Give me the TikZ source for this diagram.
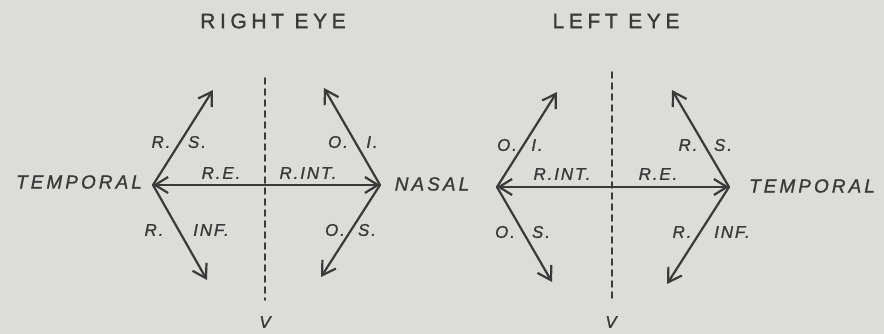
\documentclass[tikz,border=0pt]{standalone}
\usepackage{fontspec}
\usetikzlibrary{arrows.meta}
\newfontfamily\titlefont[LetterSpace=22,FakeBold=1.3]{Liberation Sans}
\newfontfamily\sidefont[LetterSpace=16,FakeBold=1.2]{Liberation Sans}
\newfontfamily\labfont[LetterSpace=11,FakeBold=1.2]{Liberation Sans}
\definecolor{Paper}{HTML}{DCDCD9}
\definecolor{Ink}{HTML}{3A3A3A}
\tikzset{barb/.tip={Straight Barb[length=13pt,width=16pt]}}

\begin{document}
\begin{tikzpicture}[x=1pt,y=-1pt,line cap=round,line join=round,
  muscle/.style={Ink,line width=2.2pt,-barb},
  midline/.style={Ink,line width=1.6pt,dash pattern=on 6pt off 5pt},
  lab/.style={Ink,inner sep=0pt,font=\labfont\itshape\fontsize{17}{17}\selectfont},
  side/.style={Ink,inner sep=0pt,font=\sidefont\itshape\fontsize{19}{19}\selectfont},
  eyetitle/.style={Ink,inner sep=0pt,font=\titlefont\fontsize{21}{21}\selectfont}]

% ---- paper ----
\fill[Paper] (0,0) rectangle (884,334);

% ---- right eye ----
\node[eyetitle] (rtitle) at (273,21) {RIGHT EYE};
\coordinate (rtemp) at (153,185);
\coordinate (rnas) at (380,185);
\coordinate (rvtop) at (265,78);
\coordinate (rvbot) at (265,300);
\node[lab] (rv) at (265,322) {V};
\draw[midline] (rvtop) -- (rvbot);
\draw[muscle] (rtemp) -- (213,90) coordinate (rsup);
\draw[muscle] (rtemp) -- (207,280) coordinate (rinf);
\draw[muscle] (rnas) -- (324,88) coordinate (roinf);
\draw[muscle] (rnas) -- (321,277) coordinate (rosup);
\draw[muscle,barb-barb] (rtemp) -- (rnas);
\node[side] (rtemplab) at (79,182) {TEMPORAL};
\node[side] (rnaslab) at (432,184) {NASAL};

% ---- left eye ----
\node[eyetitle] (ltitle) at (616,21) {LEFT EYE};
\coordinate (lnas) at (497,187);
\coordinate (ltemp) at (729,187);
\coordinate (lvtop) at (612,72);
\coordinate (lvbot) at (612,302);
\node[lab] (lv) at (611,322) {V};
\draw[midline] (lvtop) -- (lvbot);
\draw[muscle] (lnas) -- (557,92) coordinate (loinf);
\draw[muscle] (lnas) -- (552,282) coordinate (losup);
\draw[muscle] (ltemp) -- (672,90) coordinate (lsup);
\draw[muscle] (ltemp) -- (667,284) coordinate (linf);
\draw[muscle,barb-barb] (lnas) -- (ltemp);
\node[side] (ltemplab) at (812,186) {TEMPORAL};

% ---- muscle labels ----
\foreach \n/\x/\y/\t in {a/161/142/{R.}, b/197/142/{S.}, c/338/142/{O.}, d/372/142/{I.},
                         e/221/173/{R.E.}, f/308/173/{R.INT.},
                         g/154/230/{R.}, h/211/230/{INF.}, i/335/230/{O.}, j/367/230/{S.},
                         k/507/145/{O.}, l/537/145/{I.}, m/688/145/{R.}, n/723/145/{S.},
                         o/562/174/{R.INT.}, p/658/174/{R.E.},
                         q/505/232/{O.}, r/541/232/{S.}, s/682/232/{R.}, t/732/232/{INF.}}{
  \node[lab] (m\n) at (\x,\y) {\t};}
\end{tikzpicture}
\end{document}
